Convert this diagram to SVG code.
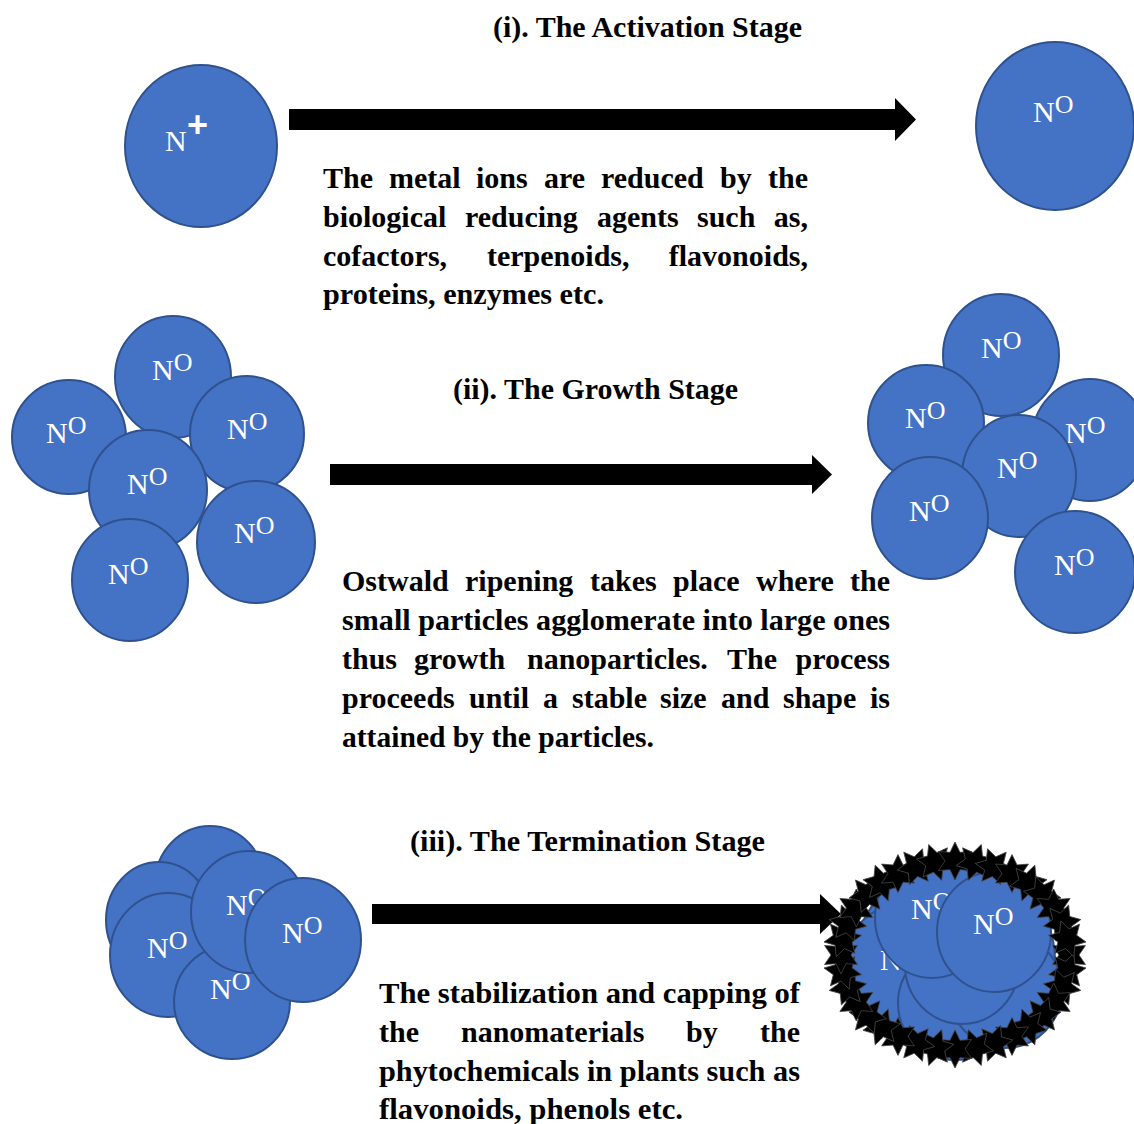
<svg xmlns="http://www.w3.org/2000/svg" xmlns:xlink="http://www.w3.org/1999/xlink" width="1134" height="1124" viewBox="0 0 1134 1124">
<style>
.c{fill:#4472C4;stroke:#2F528F;stroke-width:2}
.lbl{font-family:"Liberation Serif","DejaVu Serif",serif;font-size:30px;fill:#FFFFFF}
.sup{font-size:26px}
.t{font-family:"Liberation Serif","DejaVu Serif",serif;font-size:30px;font-weight:bold;fill:#000000}
.e{text-anchor:end}
.arr{fill:#000000}
.star{fill:#000000;stroke:#444444;stroke-width:0.8}
</style>
<defs>
<polygon id="st" points="0,-19 5,-8.66 16.45,-9.5 10,0 16.45,9.5 5,8.66 0,19 -5,8.66 -16.45,9.5 -10,0 -16.45,-9.5 -5,-8.66"/>
</defs>
<rect width="1134" height="1124" fill="#FFFFFF"/>

<!-- Titles -->
<g id="titles">
<text class="t" x="493" y="37" textLength="309" lengthAdjust="spacingAndGlyphs">(i). The Activation Stage</text>
<text class="t" x="453" y="399" textLength="285" lengthAdjust="spacingAndGlyphs">(ii). The Growth Stage</text>
<text class="t" x="410" y="851" textLength="355" lengthAdjust="spacingAndGlyphs">(iii). The Termination Stage</text>
</g>

<!-- Connectors -->
<g id="connectors">
<polygon class="arr" points="289,109 895,109 895,98 916,119.5 895,141 895,130 289,130"/>
<polygon class="arr" points="330,464 812,464 812,455 832,474.5 812,494 812,485 330,485"/>
<polygon class="arr" points="372,904 820,904 820,894 841,914 820,934 820,924 372,924"/>
</g>

<!-- Stage 1 -->
<g id="ion">
<ellipse class="c" cx="201" cy="146" rx="76" ry="81"/>
<text class="lbl" x="165" y="151">N</text>
<text class="lbl" x="187" y="137" style="font-family:'Liberation Sans','DejaVu Sans',sans-serif;font-size:36px;font-weight:bold">+</text>
</g>
<g id="atom">
<ellipse class="c" cx="1055" cy="126" rx="79" ry="84"/>
<text class="lbl" x="1033" y="122">N<tspan class="sup" dy="-9">O</tspan></text>
</g>

<g id="text1">
<text class="t" y="188"><tspan x="323">The</tspan><tspan x="389">metal</tspan><tspan x="476">ions</tspan><tspan x="544">are</tspan><tspan x="601">reduced</tspan><tspan x="720">by</tspan></text>
<text class="t e" x="808" y="188">the</text>
<text class="t" y="227"><tspan x="323">biological</tspan><tspan x="465">reducing</tspan><tspan x="597">agents</tspan><tspan x="697">such</tspan></text>
<text class="t e" x="808" y="227">as,</text>
<text class="t" y="266"><tspan x="323">cofactors,</tspan><tspan x="487">terpenoids,</tspan></text>
<text class="t e" x="808" y="266">flavonoids,</text>
<text class="t" x="323" y="304" textLength="281" lengthAdjust="spacingAndGlyphs">proteins, enzymes etc.</text>
</g>

<!-- Stage 2 left cluster -->
<g id="cluster-small">
<g id="p1"><ellipse class="c" cx="173" cy="377" rx="58" ry="61"/><text class="lbl" x="152" y="380">N<tspan class="sup" dy="-9">O</tspan></text></g>
<g id="p2"><ellipse class="c" cx="69" cy="437" rx="57" ry="57"/><text class="lbl" x="46" y="443">N<tspan class="sup" dy="-9">O</tspan></text></g>
<g id="p3"><ellipse class="c" cx="247" cy="434" rx="57" ry="58"/><text class="lbl" x="227" y="439">N<tspan class="sup" dy="-9">O</tspan></text></g>
<g id="p4"><ellipse class="c" cx="148" cy="490" rx="59" ry="60"/><text class="lbl" x="127" y="494">N<tspan class="sup" dy="-9">O</tspan></text></g>
<g id="p5"><ellipse class="c" cx="256" cy="542" rx="59" ry="61"/><text class="lbl" x="234" y="543">N<tspan class="sup" dy="-9">O</tspan></text></g>
<g id="p6"><ellipse class="c" cx="130" cy="580" rx="58" ry="61"/><text class="lbl" x="108" y="584">N<tspan class="sup" dy="-9">O</tspan></text></g>
</g>

<!-- Stage 2 right cluster -->
<g id="cluster-large">
<g id="q1"><ellipse class="c" cx="1001" cy="355" rx="58" ry="61"/><text class="lbl" x="981" y="358">N<tspan class="sup" dy="-9">O</tspan></text></g>
<g id="q3"><ellipse class="c" cx="1090" cy="440" rx="58" ry="61"/><text class="lbl" x="1065" y="443">N<tspan class="sup" dy="-9">O</tspan></text></g>
<g id="q2"><ellipse class="c" cx="926" cy="423" rx="58" ry="58"/><text class="lbl" x="905" y="428">N<tspan class="sup" dy="-9">O</tspan></text></g>
<g id="q4"><ellipse class="c" cx="1019" cy="476" rx="57" ry="61"/><text class="lbl" x="997" y="478">N<tspan class="sup" dy="-9">O</tspan></text></g>
<g id="q5"><ellipse class="c" cx="930" cy="518" rx="58" ry="61"/><text class="lbl" x="909" y="521">N<tspan class="sup" dy="-9">O</tspan></text></g>
<g id="q6"><ellipse class="c" cx="1075" cy="572" rx="60" ry="61"/><text class="lbl" x="1054" y="575">N<tspan class="sup" dy="-9">O</tspan></text></g>
</g>

<g id="text2">
<text class="t" y="591"><tspan x="342">Ostwald</tspan><tspan x="465">ripening</tspan><tspan x="590">takes</tspan><tspan x="673">place</tspan><tspan x="756">where</tspan></text>
<text class="t e" x="890" y="591">the</text>
<text class="t" x="342" y="630" textLength="548" lengthAdjust="spacingAndGlyphs">small particles agglomerate into large ones</text>
<text class="t" y="669"><tspan x="342">thus</tspan><tspan x="414">growth</tspan><tspan x="527">nanoparticles.</tspan><tspan x="727">The</tspan></text>
<text class="t e" x="890" y="669">process</text>
<text class="t" y="708"><tspan x="342">proceeds</tspan><tspan x="469">until</tspan><tspan x="543">a</tspan><tspan x="572">stable</tspan><tspan x="660">size</tspan><tspan x="721">and</tspan><tspan x="783">shape</tspan></text>
<text class="t e" x="890" y="708">is</text>
<text class="t" x="342" y="747" textLength="312" lengthAdjust="spacingAndGlyphs">attained by the particles.</text>
</g>

<!-- Stage 3 left cluster -->
<g id="cluster-term">
<g id="r1"><ellipse class="c" cx="210" cy="884" rx="55" ry="58"/></g>
<g id="r2"><ellipse class="c" cx="159" cy="920" rx="53" ry="58"/></g>
<g id="r3"><ellipse class="c" cx="168" cy="955" rx="58" ry="62"/><text class="lbl" x="147" y="958">N<tspan class="sup" dy="-9">O</tspan></text></g>
<g id="r4"><ellipse class="c" cx="232" cy="1002" rx="58" ry="57"/><text class="lbl" x="210" y="999">N<tspan class="sup" dy="-9">O</tspan></text></g>
<g id="r5"><ellipse class="c" cx="249" cy="912" rx="58" ry="61"/><text class="lbl" x="226" y="915">N<tspan class="sup" dy="-9">O</tspan></text></g>
<g id="r6"><ellipse class="c" cx="303" cy="940" rx="58" ry="62"/><text class="lbl" x="282" y="943">N<tspan class="sup" dy="-9">O</tspan></text></g>
</g>

<!-- Stage 3 capped nanoparticle -->
<g id="capped">
<ellipse class="c" cx="955" cy="960" rx="100" ry="97"/>
<g id="s1"><ellipse class="c" cx="901" cy="965" rx="57" ry="60"/><text class="lbl" x="880" y="970">N<tspan class="sup" dy="-9">O</tspan></text></g>
<g id="s2"><ellipse class="c" cx="955" cy="1003" rx="57" ry="57"/></g>
<g id="s3"><ellipse class="c" cx="1005" cy="990" rx="57" ry="58"/></g>
<g id="s4"><ellipse class="c" cx="962" cy="965" rx="57" ry="59"/></g>
<g id="s5"><ellipse class="c" cx="932" cy="918" rx="57" ry="60"/><text class="lbl" x="911" y="919">N<tspan class="sup" dy="-9">O</tspan></text></g>
<g id="s6"><ellipse class="c" cx="994" cy="932" rx="57" ry="60"/><text class="lbl" x="973" y="934">N<tspan class="sup" dy="-9">O</tspan></text></g>
<g id="cap-ring" class="star">
<use xlink:href="#st" transform="translate(1069,955)"/>
<use xlink:href="#st" transform="translate(1067.3,971.3) rotate(20)"/>
<use xlink:href="#st" transform="translate(1062.1,987.1) rotate(40)"/>
<use xlink:href="#st" transform="translate(1053.7,1002)"/>
<use xlink:href="#st" transform="translate(1042.3,1015.4) rotate(20)"/>
<use xlink:href="#st" transform="translate(1028.3,1027) rotate(40)"/>
<use xlink:href="#st" transform="translate(1012,1036.4)"/>
<use xlink:href="#st" transform="translate(994,1043.3) rotate(20)"/>
<use xlink:href="#st" transform="translate(974.8,1047.6) rotate(40)"/>
<use xlink:href="#st" transform="translate(955,1049)"/>
<use xlink:href="#st" transform="translate(935.2,1047.6) rotate(20)"/>
<use xlink:href="#st" transform="translate(916,1043.3) rotate(40)"/>
<use xlink:href="#st" transform="translate(898,1036.4)"/>
<use xlink:href="#st" transform="translate(881.7,1027) rotate(20)"/>
<use xlink:href="#st" transform="translate(867.7,1015.4) rotate(40)"/>
<use xlink:href="#st" transform="translate(856.3,1002)"/>
<use xlink:href="#st" transform="translate(847.9,987.1) rotate(20)"/>
<use xlink:href="#st" transform="translate(842.7,971.3) rotate(40)"/>
<use xlink:href="#st" transform="translate(841,955)"/>
<use xlink:href="#st" transform="translate(842.7,938.7) rotate(20)"/>
<use xlink:href="#st" transform="translate(847.9,922.9) rotate(40)"/>
<use xlink:href="#st" transform="translate(856.3,908)"/>
<use xlink:href="#st" transform="translate(867.7,894.6) rotate(20)"/>
<use xlink:href="#st" transform="translate(881.7,883) rotate(40)"/>
<use xlink:href="#st" transform="translate(898,873.6)"/>
<use xlink:href="#st" transform="translate(916,866.7) rotate(20)"/>
<use xlink:href="#st" transform="translate(935.2,862.4) rotate(40)"/>
<use xlink:href="#st" transform="translate(955,861)"/>
<use xlink:href="#st" transform="translate(974.8,862.4) rotate(20)"/>
<use xlink:href="#st" transform="translate(994,866.7) rotate(40)"/>
<use xlink:href="#st" transform="translate(1012,873.6)"/>
<use xlink:href="#st" transform="translate(1028.3,883) rotate(20)"/>
<use xlink:href="#st" transform="translate(1042.3,894.6) rotate(40)"/>
<use xlink:href="#st" transform="translate(1053.7,908)"/>
<use xlink:href="#st" transform="translate(1062.1,922.9) rotate(20)"/>
<use xlink:href="#st" transform="translate(1067.3,938.7) rotate(40)"/>
</g>
</g>

<g id="text3">
<text class="t" x="379" y="1003" textLength="421" lengthAdjust="spacingAndGlyphs">The stabilization and capping of</text>
<text class="t" y="1042"><tspan x="379">the</tspan><tspan x="461">nanomaterials</tspan><tspan x="686">by</tspan></text>
<text class="t e" x="800" y="1042">the</text>
<text class="t" x="379" y="1081" textLength="421" lengthAdjust="spacingAndGlyphs">phytochemicals in plants such as</text>
<text class="t" x="379" y="1119" textLength="304" lengthAdjust="spacingAndGlyphs">flavonoids, phenols etc.</text>
</g>
</svg>
